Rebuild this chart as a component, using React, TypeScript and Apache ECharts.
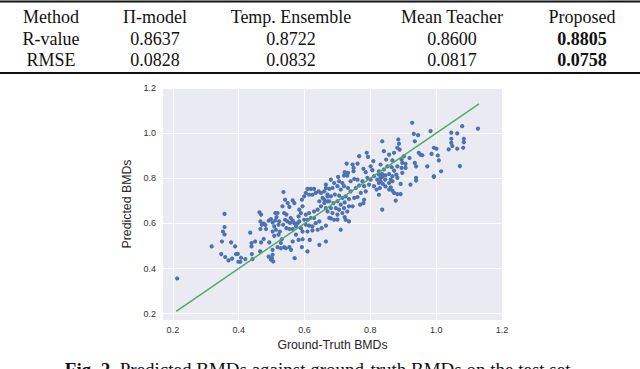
import React, { useEffect, useRef } from "react";
import * as echarts from "echarts";

// ---- table data ----
const methods = ["Method", "Π-model", "Temp. Ensemble", "Mean Teacher", "Proposed"];
const rowNames = ["R-value", "RMSE"];
const rValues = ["0.8637", "0.8722", "0.8600", "0.8805"];
const rmseValues = ["0.0828", "0.0832", "0.0817", "0.0758"];
const captionText = "Predicted BMDs against ground-truth BMDs on the test set.";

// ---- axis ticks ----
const xTicks = [0.2, 0.4, 0.6, 0.8, 1.0, 1.2];
const yTicks = [0.2, 0.4, 0.6, 0.8, 1.0, 1.2];
const identityLine = [0.21, 1.13];

// ---- scatter data (ground truth, predicted) ----
const gtBMD = [
  0.213, 0.357, 0.357, 0.352, 0.357, 0.318, 0.349, 0.347, 0.359, 0.369, 0.377, 0.38, 0.389, 0.392, 0.397, 0.399, 0.405, 0.407, 0.42, 0.435, 0.439, 0.439, 0.44, 0.442, 0.45, 0.463, 0.468, 0.466, 0.47, 0.476, 0.466, 0.468, 0.476,
  0.481, 0.483, 0.465, 0.491, 0.501, 0.498, 0.503, 0.503, 0.505, 0.493, 0.491, 0.498, 0.503, 0.511, 0.518, 0.515, 0.511, 0.523, 0.521, 0.508, 0.513, 0.503, 0.525, 0.521, 0.508, 0.531, 0.528, 0.518, 0.528, 0.538, 0.543, 0.554, 0.559, 0.57,
  0.536, 0.541, 0.549, 0.533, 0.554, 0.564, 0.569, 0.538, 0.545, 0.541, 0.548, 0.558, 0.556, 0.564, 0.569, 0.535, 0.545, 0.554, 0.564, 0.574, 0.579, 0.584, 0.582, 0.589, 0.584, 0.594, 0.592, 0.599, 0.604, 0.609, 0.619, 0.629, 0.614, 0.624,
  0.634, 0.643, 0.65, 0.66, 0.665, 0.67, 0.655, 0.645, 0.66, 0.67, 0.65, 0.665, 0.64, 0.629, 0.614, 0.604, 0.599, 0.609, 0.619, 0.629, 0.589, 0.604, 0.614, 0.624, 0.634, 0.645, 0.594, 0.609, 0.624, 0.64, 0.652, 0.665, 0.574, 0.582,
  0.594, 0.564, 0.616, 0.645, 0.665, 0.609, 0.592,
  0.766, 0.789, 0.793, 0.809, 0.728, 0.746, 0.761, 0.749, 0.779, 0.786, 0.801, 0.806, 0.722, 0.732, 0.749, 0.702, 0.72, 0.73, 0.68, 0.69, 0.705, 0.715, 0.74, 0.751, 0.761, 0.776, 0.791, 0.801, 0.811, 0.826, 0.821, 0.831, 0.836,
  0.665, 0.675, 0.685, 0.7, 0.71, 0.72, 0.732, 0.74, 0.756, 0.766, 0.781, 0.796, 0.811, 0.819, 0.829, 0.786, 0.771, 0.67, 0.68, 0.692, 0.705, 0.715, 0.725, 0.735, 0.751, 0.761, 0.66, 0.675, 0.688, 0.7, 0.71, 0.722, 0.781, 0.779,
  0.769, 0.68, 0.695, 0.705, 0.72, 0.735, 0.746, 0.67, 0.685, 0.7, 0.715, 0.73, 0.675, 0.69, 0.725, 0.735, 0.722, 0.71, 0.68, 0.7,
  0.927, 0.983, 0.932, 0.945, 0.836, 0.885, 0.887, 0.935, 0.882, 0.889, 0.993, 0.841, 0.857, 0.872, 0.947, 0.952, 0.958, 0.986, 0.902, 0.848, 0.867, 0.895, 0.919, 0.897, 0.907, 0.935, 0.939, 0.973, 0.831, 0.852, 0.865, 0.882,
  0.895, 0.907, 0.841, 0.872, 0.826, 0.836, 0.846, 0.857, 0.867, 0.879, 0.897, 0.831, 0.845, 0.862, 0.882, 0.939, 0.939, 0.993, 0.826, 0.838, 0.857, 0.867, 0.892, 0.922, 0.846, 0.862, 0.867, 0.872, 0.882, 0.892, 0.857, 0.826,
  0.877, 0.836,
  1.079, 1.127, 1.046, 1.064, 1.046, 1.084, 1.084, 1.046, 1.049, 1.064, 1.082, 1.038, 1.001, 1.005, 1.008, 1.072, 1.015, 0.993,
];
const predBMD = [
  0.356, 0.642, 0.584, 0.564, 0.551, 0.498, 0.52, 0.464, 0.451, 0.436, 0.516, 0.444, 0.498, 0.464, 0.465, 0.43, 0.43, 0.448, 0.442, 0.559, 0.513, 0.498, 0.464, 0.442, 0.52, 0.649, 0.639, 0.609, 0.594, 0.599, 0.575, 0.516, 0.531,
  0.593, 0.575, 0.476, 0.453, 0.446, 0.439, 0.461, 0.483, 0.431, 0.516, 0.612, 0.619, 0.604, 0.646, 0.646, 0.628, 0.613, 0.609, 0.594, 0.587, 0.572, 0.564, 0.564, 0.55, 0.545, 0.53, 0.513, 0.495, 0.49, 0.495, 0.49, 0.495, 0.483, 0.446,
  0.739, 0.705, 0.69, 0.676, 0.673, 0.702, 0.69, 0.646, 0.639, 0.616, 0.609, 0.624, 0.602, 0.613, 0.601, 0.594, 0.579, 0.575, 0.575, 0.587, 0.601, 0.609, 0.631, 0.646, 0.661, 0.676, 0.705, 0.72, 0.735, 0.753, 0.753, 0.753, 0.727, 0.727,
  0.735, 0.742, 0.735, 0.742, 0.757, 0.72, 0.713, 0.698, 0.69, 0.698, 0.676, 0.668, 0.661, 0.653, 0.646, 0.639, 0.616, 0.616, 0.624, 0.624, 0.579, 0.594, 0.59, 0.587, 0.601, 0.609, 0.564, 0.564, 0.569, 0.572, 0.579, 0.59, 0.55, 0.527,
  0.53, 0.52, 0.527, 0.505, 0.52, 0.476, 0.495,
  0.898, 0.913, 0.895, 0.876, 0.865, 0.861, 0.865, 0.846, 0.842, 0.827, 0.853, 0.836, 0.827, 0.824, 0.831, 0.806, 0.812, 0.812, 0.794, 0.779, 0.787, 0.779, 0.787, 0.797, 0.794, 0.787, 0.802, 0.794, 0.809, 0.816, 0.794, 0.787, 0.806,
  0.772, 0.753, 0.757, 0.765, 0.75, 0.765, 0.757, 0.742, 0.757, 0.768, 0.765, 0.772, 0.765, 0.75, 0.757, 0.742, 0.735, 0.728, 0.72, 0.728, 0.723, 0.713, 0.72, 0.708, 0.713, 0.717, 0.705, 0.698, 0.69, 0.698, 0.683, 0.693, 0.705, 0.69,
  0.683, 0.668, 0.668, 0.661, 0.668, 0.676, 0.676, 0.653, 0.646, 0.639, 0.646, 0.653, 0.624, 0.616, 0.616, 0.609, 0.628, 0.572, 0.622, 0.617,
  1.046, 1.009, 0.997, 0.991, 0.964, 0.972, 0.953, 0.964, 0.935, 0.927, 0.935, 0.92, 0.905, 0.913, 0.913, 0.905, 0.902, 0.908, 0.898, 0.883, 0.879, 0.883, 0.89, 0.868, 0.864, 0.868, 0.853, 0.853, 0.861, 0.853, 0.849, 0.853,
  0.846, 0.846, 0.839, 0.834, 0.831, 0.819, 0.813, 0.819, 0.809, 0.816, 0.824, 0.802, 0.794, 0.794, 0.802, 0.802, 0.79, 0.809, 0.779, 0.775, 0.779, 0.787, 0.775, 0.772, 0.764, 0.76, 0.745, 0.735, 0.73, 0.73, 0.75, 0.727,
  0.701, 0.661,
  1.031, 1.02, 1.002, 0.999, 0.975, 0.975, 0.96, 0.957, 0.943, 0.931, 0.935, 0.928, 0.931, 0.901, 0.879, 0.854, 0.831, 0.806,
];

const colX = [51, 155, 291, 452, 582];
const rowY = [16.7, 39.3, 60];
const SERIF = "'Liberation Serif', 'DejaVu Serif', serif";
const SANS = "'Liberation Sans', Arial, sans-serif";

export default function App() {
  const ref = useRef<HTMLDivElement>(null);
  useEffect(() => {
    if (!ref.current) return;
    const chart = echarts.init(ref.current, undefined, { renderer: "svg" });
    const n = Math.min(gtBMD.length, predBMD.length);
    const pts: number[][] = [];
    for (let i = 0; i < n; i++) pts.push([gtBMD[i], predBMD[i]]);

    const graphics: any[] = [
      { type: "rect", shape: { x: 0, y: 0.5, width: 640, height: 2 }, style: { fill: "#111" } },
      { type: "rect", shape: { x: 0, y: 72, width: 640, height: 2 }, style: { fill: "#111" } },
    ];
    const tf = 18;
    methods.forEach((m, i) => {
      graphics.push({
        type: "text", x: colX[i], y: rowY[0],
        style: { text: m, font: `${tf}px ${SERIF}`, fill: "#111", align: "center", verticalAlign: "middle" },
      });
    });
    rowNames.forEach((r, j) => {
      graphics.push({
        type: "text", x: colX[0], y: rowY[j + 1],
        style: { text: r, font: `${tf}px ${SERIF}`, fill: "#111", align: "center", verticalAlign: "middle" },
      });
      const vals = j === 0 ? rValues : rmseValues;
      vals.forEach((v, i) => {
        const bold = i === vals.length - 1;
        graphics.push({
          type: "text", x: colX[i + 1], y: rowY[j + 1],
          style: { text: v, font: `${bold ? "bold " : ""}${tf}px ${SERIF}`, fill: "#111", align: "center", verticalAlign: "middle" },
        });
      });
    });
    graphics.push({
      type: "text", x: 320, y: 360,
      style: {
        text: "{b|Fig. 2.} " + captionText,
        font: `19px ${SERIF}`, fill: "#111", align: "center", verticalAlign: "top",
        rich: { b: { font: `bold 19px ${SERIF}`, fill: "#111" } },
      },
    });

    chart.setOption({
      animation: false,
      backgroundColor: "#ffffff",
      grid: { left: 163, top: 88, width: 339, height: 232, show: true, backgroundColor: "#eaeaf2", borderWidth: 0 },
      xAxis: {
        type: "value", min: 0.17, max: 1.2,
        name: "Ground-Truth BMDs", nameLocation: "middle", nameGap: 15,
        nameTextStyle: { fontFamily: SANS, fontSize: 12.3, color: "#262626", verticalAlign: "top" },
        axisLine: { show: false },
        axisTick: { show: false, customValues: xTicks },
        axisLabel: { customValues: xTicks, formatter: (v: number) => v.toFixed(1), fontFamily: SANS, fontSize: 9, color: "#333", margin: 5 },
        splitLine: { show: true, lineStyle: { color: "#ffffff", width: 1 } },
      },
      yAxis: {
        type: "value", min: 0.172, max: 1.2,
        name: "Predicted BMDs", nameLocation: "middle", nameGap: 19,
        nameTextStyle: { fontFamily: SANS, fontSize: 12.3, color: "#262626" },
        axisLine: { show: false },
        axisTick: { show: false, customValues: yTicks },
        axisLabel: { customValues: yTicks, formatter: (v: number) => v.toFixed(1), fontFamily: SANS, fontSize: 9, color: "#333", margin: 7 },
        splitLine: { show: true, lineStyle: { color: "#ffffff", width: 1 } },
      },
      series: [
        {
          type: "scatter", data: pts, symbolSize: 4.2,
          itemStyle: { color: "#4c72b0", opacity: 1 }, z: 2,
        },
        {
          type: "line", data: identityLine.map((v) => [v, v]), symbol: "none",
          lineStyle: { color: "#55a868", width: 1.5 }, z: 3,
        },
      ],
      graphic: graphics,
    });
    return () => chart.dispose();
  }, []);
  return (
    <div
      ref={ref}
      style={{ position: "fixed", left: 0, top: 0, width: 640, height: 369, background: "#fff" }}
    />
  );
}
